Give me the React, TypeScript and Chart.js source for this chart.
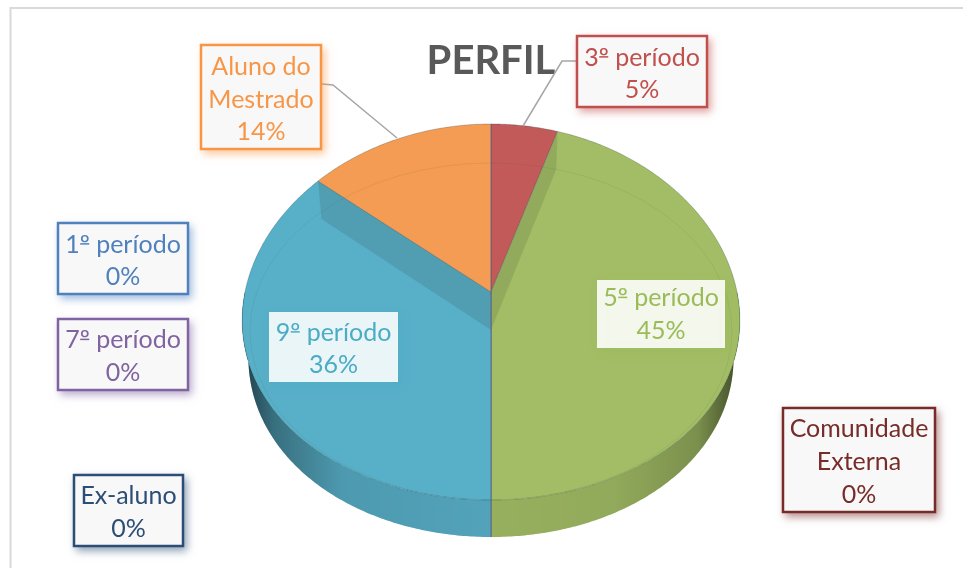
import React, { useEffect, useRef } from "react";
import { Chart, registerables, ArcElement, PieController } from "chart.js";

const categories = ["1º período", "3º período", "5º período", "7º período", "9º período", "Aluno do Mestrado", "Ex-aluno", "Comunidade Externa"];
const shares = [0, 5, 45, 0, 36, 14, 0, 0];
const sliceColors = ["#4F81BD", "#C15A58", "#A2BD65", "#8064A2", "#58AFC8", "#F49B54", "#2C4D75", "#772C2A"];
const labelColors = ["#4F81BD", "#C0504D", "#9BBB59", "#8064A2", "#4BACC6", "#F79646", "#2C4D75", "#772C2A"];
const labelLines = [["1º período"], ["3º período"], ["5º período"], ["7º período"], ["9º período"], ["Aluno do", "Mestrado"], ["Ex-aluno"], ["Comunidade", "Externa"]];

// Label box layout: left, top, right, bottom, text shift, and whether a border is drawn.
const boxes = [
  { l: 57, t: 222, r: 189, b: 295, dy: 1.5, border: true },
  { l: 576, t: 35, r: 708, b: 108, dy: 1.5, border: true },
  { l: 597, t: 280, r: 725, b: 348, dy: -0.5, border: false },
  { l: 57, t: 318, r: 189, b: 391, dy: 1, border: true },
  { l: 269, t: 312, r: 398, b: 382, dy: 1, border: false },
  { l: 200, t: 44, r: 322, b: 150, dy: 1.5, border: true },
  { l: 73, t: 474, r: 184, b: 547, dy: 1, border: true },
  { l: 782, t: 407, r: 936, b: 513, dy: 1, border: true },
];
const leaders = [
  [[322, 84], [333, 85], [397, 138]],
  [[576, 61], [562, 61], [523, 126]],
];

// Perspective projection of the pie disc.
const CX = 491, CY = 292, A = 246, B = 185.9, P = 0.1064, PX = 0.15, DEPTH = 37, EDGE = 38;
const proj = (t: number) => {
  const X = Math.sin(t), Y = Math.cos(t);
  return [CX + (A * X) / (1 + PX * Y), CY - (B * Y) / (1 + P * Y)];
};

class PerspectiveArc extends (ArcElement as any) {
  static id = "perspectiveArc";
  draw(ctx: CanvasRenderingContext2D) {
    const self = this as any;
    const s = self.startAngle + Math.PI / 2, e = self.endAngle + Math.PI / 2;
    if (e - s < 1e-4) return;
    const color = self.options.backgroundColor as string;
    const steps = Math.max(4, Math.ceil((e - s) / 0.01));
    const face = () => {
      ctx.beginPath();
      ctx.moveTo(CX, CY);
      for (let i = 0; i <= steps; i++) {
        const p = proj(s + ((e - s) * i) / steps);
        ctx.lineTo(p[0], p[1]);
      }
      ctx.closePath();
    };
    ctx.save();
    // outer wall
    const ws = Math.max(s, Math.PI / 2), we = Math.min(e, (3 * Math.PI) / 2);
    if (we > ws) {
      const n = Math.ceil((we - ws) / 0.01);
      ctx.beginPath();
      for (let i = 0; i <= n; i++) {
        const p = proj(ws + ((we - ws) * i) / n);
        if (i === 0) ctx.moveTo(p[0], p[1]);
        else ctx.lineTo(p[0], p[1]);
      }
      for (let i = n; i >= 0; i--) {
        const p = proj(ws + ((we - ws) * i) / n);
        ctx.lineTo(CX + (p[0] - CX) * 0.975, p[1] + DEPTH);
      }
      ctx.closePath();
      ctx.fillStyle = color;
      ctx.fill();
      const g = ctx.createLinearGradient(CX - A, 0, CX + A, 0);
      g.addColorStop(0, "rgba(0,0,0,0.62)");
      g.addColorStop(0.06, "rgba(0,0,0,0.36)");
      g.addColorStop(0.2, "rgba(0,0,0,0.12)");
      g.addColorStop(0.5, "rgba(0,0,0,0.07)");
      g.addColorStop(0.75, "rgba(0,0,0,0.1)");
      g.addColorStop(0.92, "rgba(0,0,0,0.24)");
      g.addColorStop(1, "rgba(0,0,0,0.58)");
      ctx.fillStyle = g;
      ctx.fill();
    }
    // top face
    face();
    ctx.fillStyle = color;
    ctx.fill();
    // inner bevel and cut faces, held inside the slice
    ctx.save();
    face();
    ctx.clip();
    ctx.beginPath();
    ctx.ellipse(CX, 331.5, 241, 168.5, 0, 0, Math.PI * 2);
    ctx.strokeStyle = "rgba(70,90,40,0.09)";
    ctx.lineWidth = 1;
    ctx.stroke();
    for (const t of [s, e]) {
      const p = proj(t);
      ctx.beginPath();
      ctx.moveTo(p[0], p[1]);
      ctx.lineTo(CX, CY);
      ctx.lineTo(CX, CY + EDGE);
      ctx.lineTo(p[0] + (CX - p[0]) * 0.02, p[1] + EDGE);
      ctx.closePath();
      ctx.fillStyle = "rgba(40,50,40,0.13)";
      ctx.fill();
    }
    ctx.restore();
    // rim lines
    ctx.beginPath();
    for (let i = 0; i <= steps; i++) {
      const p = proj(s + ((e - s) * i) / steps);
      if (i === 0) ctx.moveTo(p[0], p[1]);
      else ctx.lineTo(p[0], p[1]);
    }
    ctx.strokeStyle = "rgba(0,40,40,0.22)";
    ctx.lineWidth = 1;
    ctx.stroke();
    // slice edges
    for (const t of [s, e]) {
      const p = proj(t);
      ctx.beginPath();
      ctx.moveTo(CX, CY);
      const front = Math.cos(t) < -0.5;
      ctx.lineTo(p[0], p[1] + (front ? DEPTH : 0));
      ctx.strokeStyle = front || Math.abs(Math.sin(t)) < 0.01 ? "rgba(95,95,135,0.85)" : "rgba(30,60,70,0.25)";
      ctx.lineWidth = 1;
      ctx.stroke();
    }
    ctx.restore();
  }
}

class PerspectivePie extends (PieController as any) {
  static id = "perspectivePie";
  static defaults = { dataElementType: "perspectiveArc" };
}

Chart.register(...registerables, PerspectiveArc as any, PerspectivePie as any);

const FONT = '25px Lato, "Noto Sans", sans-serif';

// Lato's º has no underline, as the reference's has: it gets a short rule beneath it.
const drawCentered = (ctx: CanvasRenderingContext2D, txt: string, mx: number, y: number) => {
  ctx.font = FONT;
  ctx.textAlign = "left";
  ctx.textBaseline = "alphabetic";
  const width = ctx.measureText(txt).width;
  const x = mx - width / 2;
  ctx.fillText(txt, x, y + 9);
  const at = txt.indexOf("º");
  if (at >= 0) {
    const x0 = x + ctx.measureText(txt.slice(0, at)).width;
    const w = ctx.measureText("º").width;
    ctx.fillRect(x0 + 0.5, y + 9 - 9.5, w - 1, 1.5);
  }
};

const framePlugin = {
  id: "frame",
  beforeDraw(chart: any) {
    const ctx = chart.ctx as CanvasRenderingContext2D;
    ctx.save();
    ctx.strokeStyle = "#d9d9d9";
    ctx.lineWidth = 2;
    ctx.beginPath();
    ctx.moveTo(10.5, 568);
    ctx.lineTo(10.5, 8);
    ctx.lineTo(963, 8);
    ctx.stroke();
    ctx.restore();
  },
};

const labelPlugin = {
  id: "boxLabels",
  afterDraw(chart: any) {
    const ctx = chart.ctx as CanvasRenderingContext2D;
    ctx.save();
    ctx.strokeStyle = "#a6a6a6";
    ctx.lineWidth = 1.5;
    for (const line of leaders) {
      ctx.beginPath();
      line.forEach((p, i) => (i ? ctx.lineTo(p[0], p[1]) : ctx.moveTo(p[0], p[1])));
      ctx.stroke();
    }
    const total = shares.reduce((a, b) => a + b, 0);
    categories.forEach((_, i) => {
      const b = boxes[i], c = labelColors[i];
      ctx.save();
      ctx.shadowColor = c + "88";
      ctx.shadowBlur = 8;
      ctx.shadowOffsetX = 3;
      ctx.shadowOffsetY = 4;
      ctx.fillStyle = b.border ? "#f8f8f8" : "rgba(255,255,255,0.88)";
      ctx.fillRect(b.l, b.t, b.r - b.l, b.b - b.t);
      ctx.restore();
      if (b.border) {
        ctx.strokeStyle = c;
        ctx.lineWidth = 2.5;
        ctx.strokeRect(b.l + 1, b.t + 1, b.r - b.l - 2, b.b - b.t - 2);
      }
      const lines = [...labelLines[i], `${Math.round((shares[i] / total) * 100)}%`];
      const mx = (b.l + b.r) / 2, my = (b.t + b.b) / 2, lh = 32.7;
      ctx.fillStyle = c;
      lines.forEach((txt, k) => drawCentered(ctx, txt, mx, my + (k - (lines.length - 1) / 2) * lh + b.dy));
    });
    ctx.restore();
  },
};

export default function App() {
  const ref = useRef<HTMLCanvasElement>(null);
  useEffect(() => {
    document.body.style.margin = "0";
    const chart = new Chart(ref.current as HTMLCanvasElement, {
      type: "perspectivePie" as any,
      data: {
        labels: categories,
        datasets: [{ data: shares, backgroundColor: sliceColors, borderWidth: 0 }],
      },
      options: {
        responsive: false,
        animation: false,
        layout: { padding: { left: 19 } },
        plugins: {
          legend: { display: false },
          tooltip: { enabled: false },
          title: {
            display: true,
            text: "PERFIL",
            color: "#595959",
            font: { family: 'Lato, "Noto Sans", sans-serif', size: 40, weight: "bold" },
            padding: { top: 37, bottom: 0 },
          },
        },
      } as any,
      plugins: [framePlugin, labelPlugin],
    });
    return () => chart.destroy();
  }, []);
  return <canvas ref={ref} width={963} height={568} style={{ display: "block" }} />;
}
